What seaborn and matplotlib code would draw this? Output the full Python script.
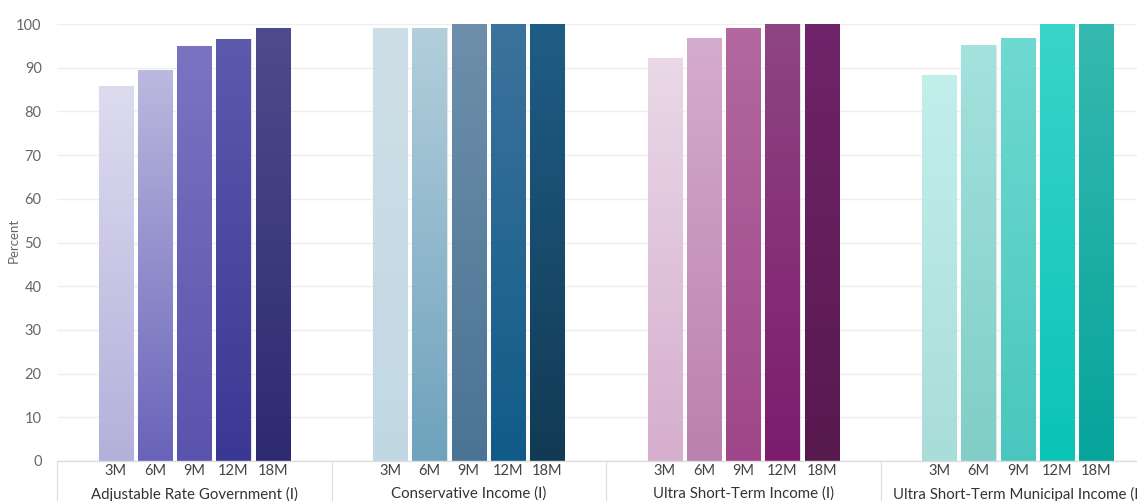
import numpy as np
import pandas as pd
import matplotlib
matplotlib.use("Agg")
import matplotlib.pyplot as plt
import seaborn as sns
from matplotlib.colors import LinearSegmentedColormap
from matplotlib.ticker import FixedLocator, FixedFormatter, NullFormatter

# ---- data -------------------------------------------------------------
funds = [
    "Adjustable Rate Government (I)",
    "Conservative Income (I)",
    "Ultra Short-Term Income (I)",
    "Ultra Short-Term Municipal Income (I)",
]
terms = ["3M", "6M", "9M", "12M", "18M"]

adjustable_rate_gov = [85.8, 89.5, 95.0, 96.5, 99.1]
conservative_income = [99.1, 99.1, 99.9, 99.9, 99.9]
ultra_short_income = [92.2, 96.7, 99.1, 99.9, 99.9]
ultra_short_muni = [88.3, 95.1, 96.8, 99.9, 99.9]
series = [adjustable_rate_gov, conservative_income, ultra_short_income, ultra_short_muni]

# gradient end colours per bar (light at the top of the scale, deeper at the base)
top_colors = [
    ["#e4e3f2", "#c6c4e4", "#7b76c3", "#5e5aae", "#4e4c8c"],
    ["#cfdfe7", "#b4cfdc", "#6d8fab", "#3c739c", "#1f5d86"],
    ["#ebdcea", "#d6adce", "#b3699f", "#8f4583", "#70246a"],
    ["#c6f1ef", "#a6e3df", "#70dad1", "#3ad4ca", "#36b9b0"],
]
bottom_colors = [
    ["#b3b0db", "#6863b9", "#5953ad", "#3b3894", "#2d2a72"],
    ["#c1d8e3", "#6ea2bd", "#4b7394", "#115b89", "#123a54"],
    ["#d6aece", "#bb81af", "#9e4689", "#7c1c6d", "#57194e"],
    ["#a9ddd9", "#80cec7", "#49c7be", "#0bc3b7", "#06a49b"],
]

# ---- long table with empty padding slots around each group ------------
slots, rows = [], []
for fi, fund in enumerate(funds):
    slots.append(f"{fi}:pad0")
    for ti, term in enumerate(terms):
        key = f"{fi}:{term}"
        slots.append(key)
        rows.append({"slot": key, "fund": fund, "term": term, "value": series[fi][ti]})
    slots.append(f"{fi}:pad1")
df = pd.DataFrame(rows)
n_per_group = len(terms) + 2

sns.set_theme(style="white")
plt.rcParams["font.family"] = ["Lato", "DejaVu Sans"]

W, H = 1137, 501
fig = plt.figure(figsize=(W / 100, H / 100), dpi=100)
left_px, right_px, top_px, bottom_px = 57, 1155, 24, 461
ax = fig.add_axes([left_px / W, 1 - bottom_px / H,
                   (right_px - left_px) / W, (bottom_px - top_px) / H])

flat_colors = {f"{fi}:{t}": bottom_colors[fi][ti]
               for fi in range(len(funds)) for ti, t in enumerate(terms)}
sns.barplot(data=df, x="slot", y="value", order=slots, hue="slot",
            palette=flat_colors, legend=False, width=0.87, ax=ax,
            edgecolor="#e4e4e4", linewidth=0.8)

# vertical gradient fill for each bar, clipped to the bar rectangle
for patch in list(ax.patches):
    x0, w, h = patch.get_x(), patch.get_width(), patch.get_height()
    if not np.isfinite(h) or h <= 0:
        continue
    idx = int(round(x0 + w / 2))
    fi, ti = idx // n_per_group, idx % n_per_group - 1
    cmap = LinearSegmentedColormap.from_list(
        "bar", [bottom_colors[fi][ti], top_colors[fi][ti]])
    grad = np.linspace(0, 1, 256).reshape(-1, 1)
    im = ax.imshow(grad, cmap=cmap, extent=[x0, x0 + w, 0, 100],
                   origin="lower", aspect="auto", zorder=patch.get_zorder())
    im.set_clip_path(patch)
    patch.set_facecolor("none")

ax.set_xlim(-0.5, len(slots) - 0.5)
ax.set_ylim(0, 100)

# y axis
ax.set_yticks(np.arange(0, 101, 10))
ax.tick_params(axis="y", length=0, pad=11, labelsize=10.5, labelcolor="#666666")
ax.yaxis.grid(True, color="#eeeeee", linewidth=1)
ax.set_axisbelow(True)
ax.set_ylabel("Percent", fontsize=9.5, color="#666666")
ax.yaxis.set_label_coords(-0.034, 0.505)

# x axis: term labels at slot centres, short ticks at slot boundaries
term_pos = [i for i, s in enumerate(slots) if not s.endswith(("pad0", "pad1"))]
term_lab = [s.split(":")[1] for s in slots if not s.endswith(("pad0", "pad1"))]
ax.set_xticks(term_pos)
ax.set_xticklabels(term_lab)
ax.tick_params(axis="x", length=0, pad=2.5, labelsize=10.5, labelcolor="#444444")
inner_bounds = [g * n_per_group + k + 0.5 for g in range(len(funds)) for k in range(n_per_group - 1)]
ax.xaxis.set_minor_locator(FixedLocator(inner_bounds))
ax.xaxis.set_minor_formatter(NullFormatter())
ax.tick_params(axis="x", which="minor", length=14, width=0.8, color="#dddddd", direction="out")
ax.set_xlabel("")

# second level: fund names and long group separators
sec = ax.secondary_xaxis("bottom")
group_bounds = [g * n_per_group - 0.5 for g in range(len(funds) + 1)]
sec.set_xticks(group_bounds)
sec.set_xticklabels([""] * len(group_bounds))
sec.tick_params(axis="x", which="major", length=40, width=0.8, color="#dddddd")
sec.xaxis.set_minor_locator(FixedLocator([g * n_per_group + (n_per_group - 1) / 2 for g in range(len(funds))]))
sec.xaxis.set_minor_formatter(FixedFormatter(funds))
sec.tick_params(axis="x", which="minor", length=0, pad=18.5, labelsize=10.8, labelcolor="#333333")
sec.spines["bottom"].set_visible(False)

for side in ["top", "right", "left"]:
    ax.spines[side].set_visible(False)
ax.spines["bottom"].set_color("#dddddd")
ax.spines["bottom"].set_linewidth(1)

fig.savefig("out.png", dpi=100)
